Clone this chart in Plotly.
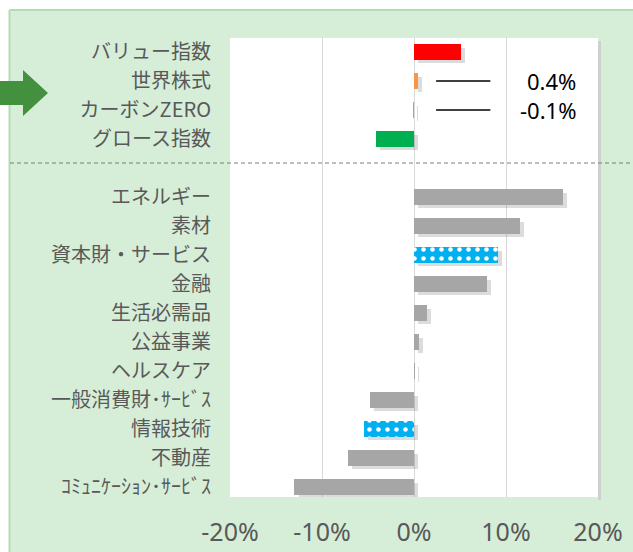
import plotly.graph_objects as go

# ---- data ----
categories = ["バリュー指数", "世界株式", "カーボンZERO", "グロース指数",
              "エネルギー", "素材", "資本財・サービス", "金融", "生活必需品",
              "公益事業", "ヘルスケア", "一般消費財･ｻｰﾋﾞｽ", "情報技術", "不動産",
              "ｺﾐｭﾆｹｰｼｮﾝ･ｻｰﾋﾞｽ"]
values = [5.1, 0.4, -0.1, -4.1, 16.2, 11.5, 9.1, 7.9, 1.4, 0.5, 0.1, -4.8, -5.4, -7.2, -13.0]
row_slots = [0, 1, 2, 3, 5, 6, 7, 8, 9, 10, 11, 12, 13, 14, 15]
bar_colors = ["#ff0000", "#f79646", "#a6a6a6", "#00b050",
              "#a6a6a6", "#a6a6a6", "#00b0f0", "#a6a6a6", "#a6a6a6",
              "#a6a6a6", "#a6a6a6", "#a6a6a6", "#00b0f0", "#a6a6a6", "#a6a6a6"]
dotted = [False, False, False, False, False, False, True, False, False,
          False, False, False, True, False, False]
x_tickvals = [-20, -10, 0, 10, 20]
x_ticktext = ["-20%", "-10%", "0%", "10%", "20%"]
callout_rows = [1, 2]          # 世界株式, カーボンZERO
callout_labels = ["0.4%", "-0.1%"]

# ---- layout geometry helpers (pixel -> paper) ----
W, H = 633, 552
L, R, T, B = 230, 598, 38, 497
def X(px): return (px - L) / (R - L)
def Y(py): return (B - py) / (B - T)

GREEN_BG = "#d6eed8"
GRAY_TXT = "#595959"
DOT_BLUE = "#00b0f0"

fig = go.Figure()

# soft shadow behind bars
fig.add_trace(go.Bar(
    x=values, y=[s + 0.12 for s in row_slots], base=0.45, orientation="h",
    width=0.52, marker=dict(color="rgba(60,60,60,0.18)", line=dict(width=0)),
    hoverinfo="skip", showlegend=False))

# main bars
fig.add_trace(go.Bar(
    x=values, y=row_slots, orientation="h", width=0.52,
    marker=dict(color=bar_colors, line=dict(width=0)),
    showlegend=False))

# dotted (patterned) bars overlaid
dx = [v for v, d in zip(values, dotted) if d]
dy = [s for s, d in zip(row_slots, dotted) if d]
fig.add_trace(go.Bar(
    x=dx, y=dy, orientation="h", width=0.52,
    marker=dict(color=DOT_BLUE, line=dict(width=0),
                pattern=dict(shape=".", fgcolor="white", bgcolor=DOT_BLUE,
                             size=9, solidity=0.2, fillmode="replace")),
    showlegend=False))

shapes = [
    # white strips outside green panel
    dict(type="rect", xref="paper", yref="paper", x0=X(-10), x1=X(700), y0=Y(10), y1=Y(-10),
         fillcolor="white", line=dict(width=0), layer="above"),
    dict(type="rect", xref="paper", yref="paper", x0=X(-10), x1=X(9), y0=Y(600), y1=Y(-10),
         fillcolor="white", line=dict(width=0), layer="above"),
    # panel border
    dict(type="line", xref="paper", yref="paper", x0=X(9.5), x1=X(9.5), y0=Y(10), y1=Y(600),
         line=dict(color="#b3dcb5", width=2), layer="above"),
    dict(type="line", xref="paper", yref="paper", x0=X(9.5), x1=X(700), y0=Y(10), y1=Y(10),
         line=dict(color="#b3dcb5", width=2), layer="above"),
    # plot area shadow (right)
    dict(type="rect", xref="paper", yref="paper", x0=X(598), x1=X(601), y0=Y(500), y1=Y(41),
         fillcolor="#cfcfcf", line=dict(width=0), layer="below"),
    # dashed separator
    dict(type="line", xref="paper", yref="paper", x0=X(10), x1=X(640), y0=Y(163), y1=Y(163),
         line=dict(color="#7a7a7a", width=1, dash="4px,3px"), layer="above"),
    # green arrow
    dict(type="path", xref="paper", yref="paper",
         path=(f"M {X(0)},{Y(81)} L {X(23)},{Y(81)} L {X(23)},{Y(70)} L {X(48)},{Y(93)} "
               f"L {X(23)},{Y(116)} L {X(23)},{Y(105)} L {X(0)},{Y(105)} Z"),
         fillcolor="#43903e", line=dict(width=0), layer="above"),
]
# callout lines
for r in callout_rows:
    shapes.append(dict(type="line", xref="x", yref="y", x0=2.4, x1=8.3,
                       y0=row_slots[r], y1=row_slots[r],
                       line=dict(color="black", width=1.5), layer="above"))

annotations = []
for r, lab in zip(callout_rows, callout_labels):
    annotations.append(dict(x=17.7, y=row_slots[r], xref="x", yref="y", text=lab,
                            showarrow=False, xanchor="right", yanchor="middle",
                            borderpad=0,
                            font=dict(size=22, color="black",
                                      family="Noto Sans, Noto Sans CJK JP")))

fig.update_layout(
    width=W, height=H,
    margin=dict(l=L, r=W - R, t=T, b=H - B, pad=0, autoexpand=False),
    paper_bgcolor=GREEN_BG, plot_bgcolor="white",
    barmode="overlay", bargap=0,
    font=dict(family="Noto Sans CJK JP", color=GRAY_TXT),
    shapes=shapes, annotations=annotations,
    xaxis=dict(range=[-20, 20], tickvals=x_tickvals, ticktext=x_ticktext,
               showgrid=True, gridcolor="#d9d9d9", gridwidth=1,
               zeroline=True, zerolinecolor="#d9d9d9", zerolinewidth=1,
               showline=False, ticks="outside", ticklen=13, tickcolor="rgba(0,0,0,0)",
               tickfont=dict(size=25, color=GRAY_TXT, family="Noto Sans, Noto Sans CJK JP"),
               automargin=False, fixedrange=True),
    yaxis=dict(range=[15 + (B - 487) / 29, -(52 - T) / 29],
               tickvals=row_slots, ticktext=categories,
               showgrid=False, zeroline=False, showline=False,
               ticks="outside", ticklen=14, tickcolor="rgba(0,0,0,0)",
               tickfont=dict(size=20, color=GRAY_TXT, family="Noto Sans CJK JP"),
               automargin=False, fixedrange=True),
)

fig.write_html("out.html", config={"displayModeBar": False},
               post_script="document.body.style.margin='0';")
